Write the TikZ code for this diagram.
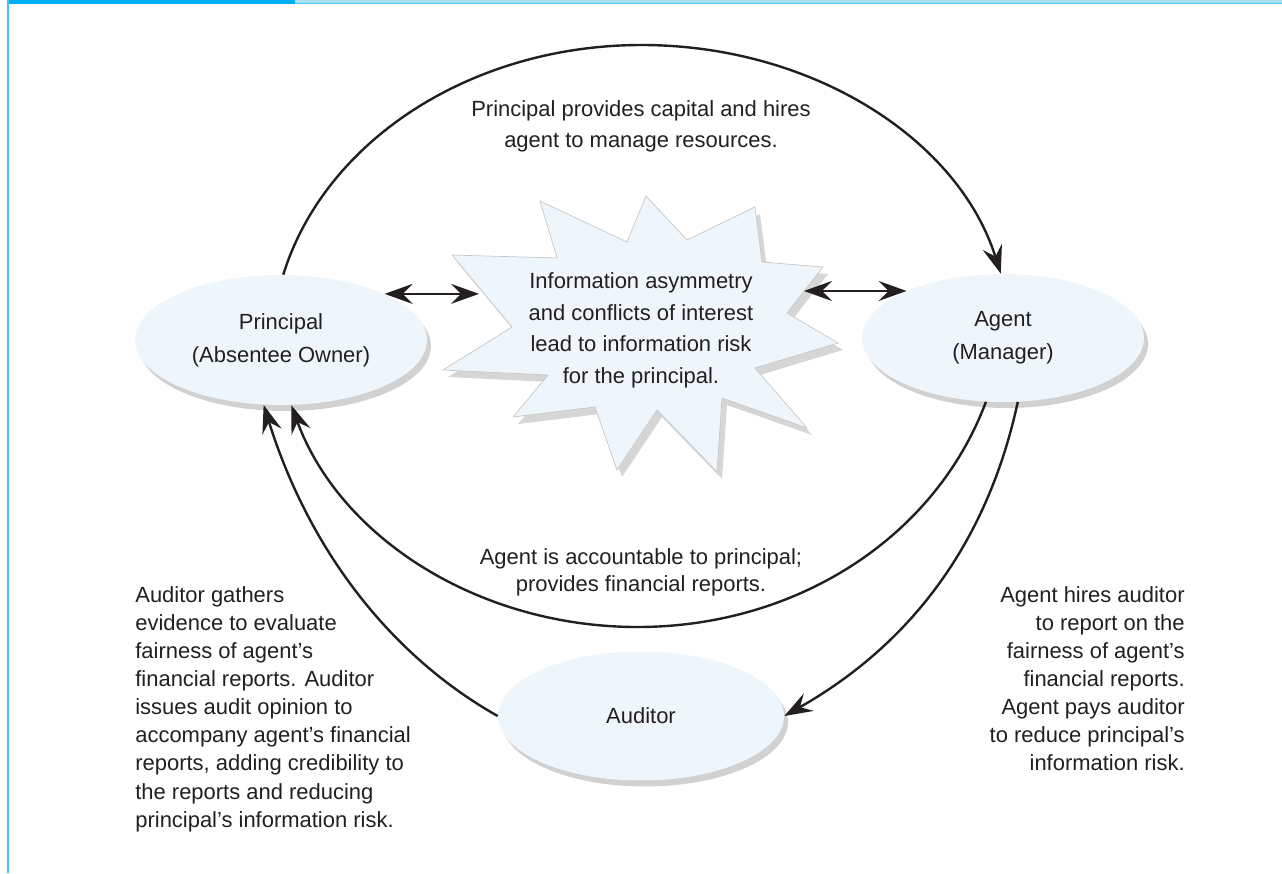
\documentclass[tikz,border=0pt]{standalone}
\usepackage{fontspec}
\setmainfont{Liberation Sans}
\usetikzlibrary{arrows.meta,shapes.geometric,shadows}
\definecolor{txt}{HTML}{231F20}
\definecolor{barblue}{HTML}{00B0F0}
\definecolor{barlight}{HTML}{A9DDF6}
\definecolor{bubble}{HTML}{EEF6FC}
\begin{document}
\begin{tikzpicture}[x=0.02cm,y=-0.02cm,
  ell/.style={ellipse, fill=bubble, inner sep=0pt, text=txt, align=center,
    font=\fontsize{12.5}{19}\selectfont,
    drop shadow={shadow xshift=0.08cm, shadow yshift=-0.12cm, fill=black, opacity=0.18}},
  lbl/.style={text=txt, inner sep=0pt, font=\fontsize{12.5}{16}\selectfont},
  conn/.style={line width=0.048cm, draw=txt},
  tip/.tip={Stealth[length=0.56cm,width=0.4cm,inset=0.2cm]},
  arr/.style={-tip},
  dbl/.style={tip-tip}
]
\useasboundingbox (0,0) rectangle (1282,873);
% frame
\fill[barlight] (295,0) rectangle (1282,3);
\fill[barblue!70] (295,3) rectangle (1282,4);
\fill[barblue] (7,0) rectangle (295,4.3);
\fill[barblue!75] (7,0) rectangle (8.5,873);

% starburst
\begin{scope}[shift={(5,7)}]
\fill[black, opacity=0.16] (452,255) -- (557,258) -- (540,201) -- (627,242) -- (646,196) -- (687,240) -- (755,207) -- (762,262) -- (823,267) -- (787,313) -- (838,343) -- (755,368) -- (807,428) -- (722,398) -- (717,472) -- (657,410) -- (617,470) -- (595,407) -- (513,417) -- (548,375) -- (443,370) -- (512,327) -- cycle;
\end{scope}
\filldraw[fill=bubble, draw=black!22, line width=0.4pt] (452,255) -- (557,258) -- (540,201) -- (627,242) -- (646,196) -- (687,240) -- (755,207) -- (762,262) -- (823,267) -- (787,313) -- (838,343) -- (755,368) -- (807,428) -- (722,398) -- (717,472) -- (657,410) -- (617,470) -- (595,407) -- (513,417) -- (548,375) -- (443,370) -- (512,327) -- cycle;
\coordinate (sbL) at (479,293);
\coordinate (sbR) at (804,292);
\node[lbl, align=center, anchor=north, font=\fontsize{12.5}{18.1}\selectfont] (risk) at (641,272)
  {Information asymmetry\\and conflicts of interest\\lead to information risk\\for the principal.};

% ellipses
\node[ell, minimum width=5.84cm, minimum height=2.6cm] (P) at (281,340) {Principal\\(Absentee Owner)};
\node[ell, minimum width=5.64cm, minimum height=2.56cm] (A) at (1003,338) {Agent\\(Manager)};
\node[ell, minimum width=5.72cm, minimum height=2.58cm] (Au) at (641,716) {Auditor};

% connectors
\coordinate (topmid) at (641.5,45);
\coordinate (botmid) at (637.5,627);
\draw[conn, arr] (P.88) .. controls (325,140) and (472,45) .. (topmid) .. controls (811,45) and (958,138) .. (A.92);
\draw[conn, arr] (A.-105) .. controls (935,538) and (796,627) .. (botmid) .. controls (479,627) and (340,538) .. (P.-81);
\draw[conn, arr] (A.-77) .. controls (983,563) and (892,655) .. (Au.east);
\draw[conn, arr] (Au.west) .. controls (393,657) and (310,553) .. (P.-105);
\draw[conn, dbl] (P.24.5) -- (P.24.5 -| sbL);
\draw[conn, dbl] (A.154.6 -| sbR) -- (A.154.6);

% labels
\node[lbl, align=center, anchor=north, font=\fontsize{12.5}{18}\selectfont] (ltop) at (641,100)
  {Principal provides capital and hires\\agent to manage resources.};
\node[lbl, align=center, anchor=north, font=\fontsize{12.5}{15.5}\selectfont] (lmid) at (641,548)
  {Agent is accountable to principal;\\provides financial reports.};
\node[lbl, align=left, anchor=north west] (lleft) at (135,586)
  {Auditor gathers\\evidence to evaluate\\fairness of agent’s\\financial reports. Auditor\\issues audit opinion to\\accompany agent’s financial\\reports, adding credibility to\\the reports and reducing\\principal’s information risk.};
\node[lbl, align=right, anchor=north east] (lright) at (1185,586)
  {Agent hires auditor\\to report on the\\fairness of agent’s\\financial reports.\\Agent pays auditor\\to reduce principal’s\\information risk.};
\end{tikzpicture}
\end{document}
